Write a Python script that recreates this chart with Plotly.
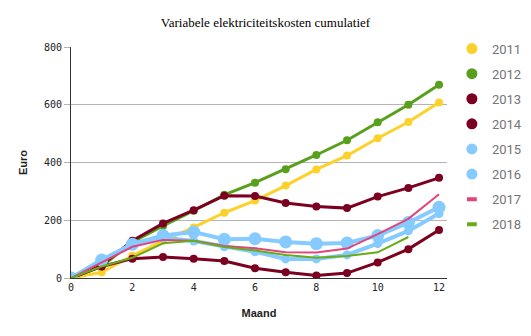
import plotly.graph_objects as go

months = list(range(13))
years = ["2011", "2012", "2013", "2014", "2015", "2016", "2017", "2018"]

v2011 = [0, 20, 77, 129, 175, 226, 268, 320, 376, 424, 484, 540, 608]
v2012 = [0, 40, 124, 180, 233, 288, 330, 377, 426, 477, 539, 600, 669]
v2013 = [0, 44, 129, 189, 235, 285, 284, 260, 248, 242, 282, 312, 347]
v2014 = [0, 40, 67, 73, 67, 59, 34, 20, 9, 17, 54, 100, 166]
v2015 = [0, 62, 117, 147, 159, 134, 136, 125, 119, 121, 147, 192, 245]
v2016 = [0, 62, 117, 140, 128, 108, 91, 66, 66, 80, 119, 163, 223]
v2017 = [0, 55, 108, 132, 129, 111, 103, 89, 88, 102, 152, 205, 290]
v2018 = [0, 40, 70, 120, 129, 107, 95, 80, 70, 76, 89, 142]

series = [v2011, v2012, v2013, v2014, v2015, v2016, v2017, v2018]
colors = ["#fdd12b", "#58a01c", "#7c0020", "#7c0020", "#86cbff", "#86cbff", "#e0457b", "#6aab1a"]
line_w = [3, 3, 3, 3, 4, 4, 2, 2]
marker_s = [8, 8, 8, 8, 13, 9, 0, 0]

fig = go.Figure()
for name, vals, c, lw, ms in zip(years, series, colors, line_w, marker_s):
    mode = "lines+markers" if ms else "lines"
    fig.add_trace(go.Scatter(
        x=months[:len(vals)], y=vals, mode=mode, name=name,
        line=dict(color=c, width=lw),
        marker=dict(color=c, size=ms if ms else 1),
        showlegend=False, hoverinfo="skip",
    ))

for name, c, ms in zip(years, colors, marker_s):
    if ms:
        mk = dict(color=c, size=11, symbol="circle")
    else:
        mk = dict(color=c, size=7, symbol="line-ew", line=dict(color=c, width=4))
    fig.add_trace(go.Scatter(
        x=[None], y=[None], mode="markers", name=name, marker=mk,
        legendgroup=name, showlegend=True,
    ))

fig.update_layout(
    width=531, height=336,
    margin=dict(l=71, r=84, t=47, b=58, autoexpand=False),
    paper_bgcolor="white", plot_bgcolor="white",
    title=dict(text="Variabele elektriciteitskosten cumulatief", x=0.5, xanchor="center",
               y=1 - 22 / 336, yanchor="middle",
               font=dict(family="Liberation Serif", size=13, color="#000000")),
    legend=dict(x=1.013, xanchor="left", y=1.058, yanchor="top",
                font=dict(family="Roboto", size=13, color="#757575"),
                tracegroupgap=5.2, itemsizing="trace", maxheight=300),
    xaxis=dict(range=[0, 12.26], dtick=2, tick0=0, showgrid=False,
               showline=True, linecolor="#333333", linewidth=1,
               zeroline=False, ticks="",
               tickfont=dict(family="DejaVu Sans Mono", size=10, color="#222222"),
               title=dict(text="<b>Maand</b>", standoff=17,
                          font=dict(family="Liberation Sans", size=11, color="#222222"))),
    yaxis=dict(range=[0, 800], dtick=200, showgrid=True, gridcolor="#b4b4b4",
               showline=True, linecolor="#333333", linewidth=1,
               zeroline=False, ticks="outside", ticklen=6, tickcolor="#b4b4b4",
               tickfont=dict(family="DejaVu Sans Mono", size=10, color="#222222"),
               title=dict(text="<b>Euro</b>", standoff=14,
                          font=dict(family="Liberation Sans", size=11, color="#222222"))),
)

fig.write_html("out.html")
